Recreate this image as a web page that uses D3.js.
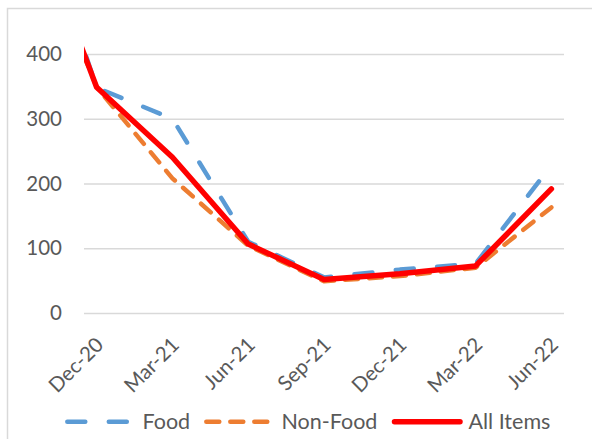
<!DOCTYPE html>
<html>
<head>
<meta charset="utf-8">
<script src="https://cdn.jsdelivr.net/npm/d3@7"></script>
<style>
  html, body { margin: 0; padding: 0; background: #fff; }
  svg { display: block; }
  text { font-family: Lato, "Open Sans", sans-serif; fill: #595959; }
</style>
</head>
<body>
<svg id="chart" width="592" height="439"></svg>
<script>
// Quarterly annual inflation readings (%), by category
const dates    = ["Sep-20", "Dec-20", "Mar-21", "Jun-21", "Sep-21", "Dec-21", "Mar-22", "Jun-22"];
const food     = [700, 348, 300, 110, 55, 67, 76, 228];
const nonFood  = [640, 349, 208, 104, 49, 57, 70, 163];
const allItems = [659.4, 348.6, 240.6, 106.6, 51.6, 60.7, 72.7, 191.6];

// Axis tick labels
const xTickLabels = ["Dec-20", "Mar-21", "Jun-21", "Sep-21", "Dec-21", "Mar-22", "Jun-22"];
const yTicks = [0, 100, 200, 300, 400];

const seriesNames = ["Food", "Non-Food", "All Items"];

const parse = d3.timeParse("%b-%y");
const origin = parse("Dec-20");
const monthIndex = s => d3.timeMonth.count(origin, parse(s));

const svg = d3.select("#chart");
const plot = { left: 84, right: 564, top: 54, bottom: 313 };

// Each month occupies one slot; points sit in the middle of their slot
const x = d3.scaleLinear().domain([-0.5, 18.5]).range([plot.left, plot.right]);
const y = d3.scaleLinear().domain([0, 400]).range([plot.bottom, plot.top]);

// Chart area border
svg.append("rect")
  .attr("x", 7.5).attr("y", 8.5).attr("width", 700).attr("height", 600)
  .attr("fill", "none").attr("stroke", "#d9d9d9").attr("stroke-width", 1.5);

// Horizontal gridlines + value labels
const yAxis = d3.axisLeft(y).tickValues(yTicks).tickSize(-(plot.right - plot.left)).tickPadding(22);
const gy = svg.append("g").attr("transform", `translate(${plot.left},0)`).call(yAxis);
gy.select(".domain").remove();
gy.selectAll(".tick line").attr("stroke", "#d9d9d9").attr("stroke-width", 1.5);
gy.selectAll(".tick text").attr("font-size", 20.5).attr("fill", "#595959")
  .attr("font-family", "Lato, sans-serif");

// Category labels, rotated
const gx = svg.append("g");
gx.selectAll("text").data(xTickLabels).join("text")
  .attr("text-anchor", "end")
  .attr("font-size", 20.5)
  .attr("transform", d => `translate(${x(monthIndex(d)) + 3},${plot.bottom + 28}) rotate(-45)`)
  .attr("dy", "0.35em")
  .text(d => d);

// Lines, clipped to the plot area
svg.append("clipPath").attr("id", "plotClip")
  .append("rect").attr("x", plot.left).attr("y", 0)
  .attr("width", plot.right - plot.left).attr("height", plot.bottom + 20);

const styles = [
  { color: "#5B9BD5", width: 4.5, dash: "18 23.5" },
  { color: "#ED7D31", width: 4.5, dash: "13 11" },
  { color: "#FF0000", width: 5.5, dash: null }
];
const values = [food, nonFood, allItems];

const line = d3.line()
  .x(d => x(monthIndex(d.date)))
  .y(d => y(d.value));

const gLines = svg.append("g").attr("clip-path", "url(#plotClip)");
values.forEach((vals, i) => {
  const pts = dates.map((d, j) => ({ date: d, value: vals[j] }));
  gLines.append("path")
    .datum(pts)
    .attr("d", line)
    .attr("fill", "none")
    .attr("stroke", styles[i].color)
    .attr("stroke-width", styles[i].width)
    .attr("stroke-linecap", "round")
    .attr("stroke-linejoin", "round")
    .attr("stroke-dasharray", styles[i].dash);
});

// Legend
const legendY = 421.7;
const legendItems = [
  { x0: 67.3, x1: 127.8, tx: 142.5 },
  { x0: 206.3, x1: 267.3, tx: 281.5 },
  { x0: 394.5, x1: 460, tx: 468.5 }
];
const gLegend = svg.append("g");
legendItems.forEach((it, i) => {
  gLegend.append("line")
    .attr("x1", it.x0).attr("x2", it.x1).attr("y1", legendY).attr("y2", legendY)
    .attr("stroke", styles[i].color)
    .attr("stroke-width", styles[i].width)
    .attr("stroke-linecap", "round")
    .attr("stroke-dasharray", styles[i].dash);
  gLegend.append("text")
    .attr("x", it.tx).attr("y", legendY).attr("dy", "0.35em")
    .attr("font-size", 21.5)
    .text(seriesNames[i]);
});
</script>
</body>
</html>
